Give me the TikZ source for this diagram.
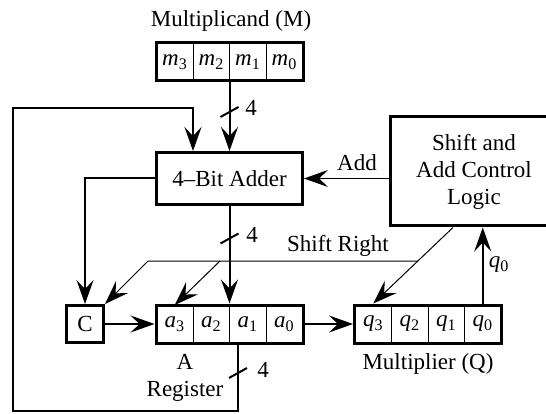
\documentclass[tikz,border=0pt]{standalone}
\usepackage{fontspec}
\setmainfont{Liberation Serif}
\usetikzlibrary{arrows.meta,fit,calc}
\newcommand\rc[2]{\textit{#1}\textsubscript{#2}}
\begin{document}
\begin{tikzpicture}[x=1pt,y=-1pt,
  font=\fontsize{23}{27}\selectfont,
  cell/.style={draw,line width=1pt,minimum width=36.5pt,minimum height=37pt,inner sep=0pt},
  regbox/.style={draw,line width=3pt,inner sep=0pt},
  blk/.style={draw,line width=3pt,inner sep=0pt},
  wire/.style={line width=2pt},
  thinwire/.style={line width=1pt},
  arr/.style={-{Stealth[length=24pt,width=17pt,inset=9pt]}},
  txt/.style={inner sep=0pt},
  busslash/.style={line width=2pt}]
\useasboundingbox (0,0) rectangle (546,414);
% Multiplicand register
\node[cell] (m3) at (174.75,62) {\rc{m}{3}};
\node[cell] (m2) at (211.25,62) {\rc{m}{2}};
\node[cell] (m1) at (247.75,62) {\rc{m}{1}};
\node[cell] (m0) at (284.25,62) {\rc{m}{0}};
\node[regbox,fit=(m3)(m0)] (M) {};
% A register
\node[cell] (a3) at (174.75,324) {\rc{a}{3}};
\node[cell] (a2) at (211.25,324) {\rc{a}{2}};
\node[cell] (a1) at (247.75,324) {\rc{a}{1}};
\node[cell] (a0) at (284.25,324) {\rc{a}{0}};
\node[regbox,fit=(a3)(a0)] (A) {};
% Q register
\node[cell] (q3) at (373.25,324) {\rc{q}{3}};
\node[cell] (q2) at (409.75,324) {\rc{q}{2}};
\node[cell] (q1) at (446.25,324) {\rc{q}{1}};
\node[cell] (q0) at (482.75,324) {\rc{q}{0}};
\node[regbox,fit=(q3)(q0)] (Q) {};
% blocks
\node[blk,minimum width=37pt,minimum height=37pt] (C) at (85,324) {C};
\node[blk,minimum width=146pt,minimum height=52pt] (add) at (229.5,178.5) {4–Bit Adder};
\node[blk,minimum width=210pt,minimum height=109pt] (ctl) at (495.5,171.5) {};
\node[txt,align=center] (ctltext) at (474,171.5) {Shift and\\Add Control\\Logic};
% labels
\node[txt] (title) at (231,21) {Multiplicand (M)};
\node[txt] (n1) at (251,108) {4};
\node[txt] (n2) at (252,235) {4};
\node[txt] (n3) at (263,370) {4};
\node[txt] (addl) at (357,163) {Add};
\node[txt] (srl) at (338,246) {Shift Right};
\node[txt] (q0l) at (499,265) {\rc{q}{0}};
\node[txt,align=center] (al) at (185,378) {A\\Register};
\node[txt] (ql) at (428,364) {Multiplier (Q)};
% coordinates
\coordinate (s1) at (229.5,112);
\coordinate (s2) at (229.5,238.5);
\coordinate (s3) at (238,373);
\coordinate (lpB) at (238,411);
\coordinate (lpL) at (13,411);
\coordinate (lpT) at (13,108);
\coordinate (lpR) at (193,108);
\coordinate (srx) at (453,0);
\coordinate (srJ) at (417.5,261);
\coordinate (srL) at (148,261);
\coordinate (srB) at (220,261);
% connectors
\draw[wire,arr] (M.south) -- (add.north);
\draw[wire,arr] (A.south -| lpB) -- (lpB) -- (lpL) -- (lpT) -- (lpR) -- (add.north -| lpR);
\draw[wire,arr] (add.west) -- (C.north |- add.west) -- (C.north);
\draw[wire,arr] (add.south) -- (A.north);
\draw[wire,arr] (C.east) -- (A.west);
\draw[wire,arr] (A.east) -- (Q.west);
\draw[wire,arr] (Q.north -| q0) -- (ctl.south -| q0);
\draw[thinwire,arr] (ctl.west |- add.east) -- (add.east);
\draw[thinwire,arr] (ctl.south -| srx) -- (Q.north -| q3);
\draw[thinwire,arr] (srJ) -- (srL) -- (C.north east);
\draw[thinwire,arr] (srB) -- (a3.north);
% bus width slashes
\draw[busslash] ($(s1)+(-9,5)$) -- ($(s1)+(9,-5)$);
\draw[busslash] ($(s2)+(-9,5)$) -- ($(s2)+(9,-5)$);
\draw[busslash] ($(s3)+(-9,5)$) -- ($(s3)+(9,-5)$);
\end{tikzpicture}
\end{document}
